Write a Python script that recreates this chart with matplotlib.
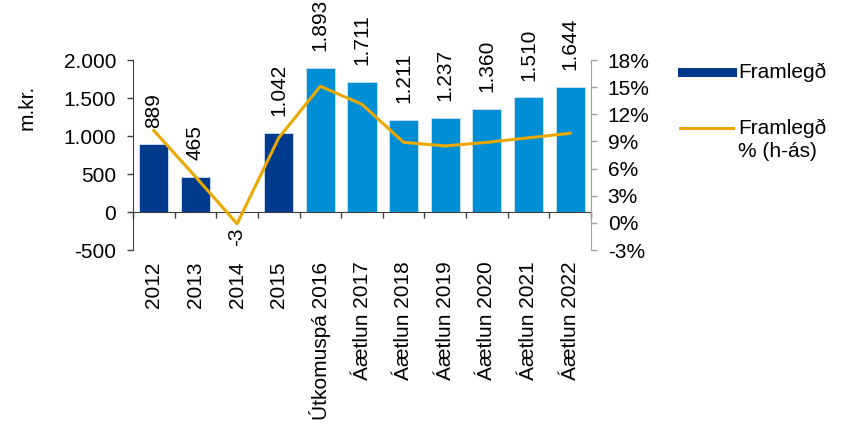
import matplotlib
matplotlib.use("Agg")
import matplotlib.pyplot as plt
from matplotlib.lines import Line2D
from matplotlib.ticker import FuncFormatter, FixedLocator
import numpy as np

plt.rcParams['font.family'] = ['Liberation Sans', 'DejaVu Sans']

categories = ["2012", "2013", "2014", "2015", "Útkomuspá 2016", "Áætlun 2017",
              "Áætlun 2018", "Áætlun 2019", "Áætlun 2020", "Áætlun 2021", "Áætlun 2022"]
framlegd = [889, 465, -3, 1042, 1893, 1711, 1211, 1237, 1360, 1510, 1644]
framlegd_pct = [10.2, 5.1, -0.1, 9.4, 15.1, 13.1, 8.9, 8.5, 8.9, 9.4, 9.9]
n_actual = 4

dark_blue = "#003A8C"
light_blue = "#008FD5"
gold = "#EAA800"
FS = 15

fig = plt.figure(figsize=(8.43, 4.24), dpi=100)
ax = fig.add_axes([133/843, 1-250/424, (591-133)/843, (250-60)/424])
x = np.arange(len(categories))
colors = [dark_blue if i < n_actual else light_blue for i in range(len(categories))]
ax.bar(x, framlegd, width=0.7, color=colors, edgecolor="#cfe3f3", linewidth=0.6, zorder=2)
ax.set_xlim(-0.5, len(categories) - 0.5)
ax.set_ylim(-500, 2000)
ax.set_yticks(np.arange(-500, 2001, 500))
ax.yaxis.set_major_formatter(FuncFormatter(lambda v, p: f"{int(v):,}".replace(",", ".")))
ax.tick_params(axis='y', direction='out', length=4, width=1, color="#404040", labelsize=FS, pad=8)

for s in ['top', 'right']:
    ax.spines[s].set_visible(False)
ax.spines['left'].set_color("#404040")
ax.spines['bottom'].set_position(('data', 0))
ax.spines['bottom'].set_color("#404040")
ax.xaxis.set_major_locator(FixedLocator(np.arange(-0.5, len(categories), 1.0)))
ax.set_xticklabels([])
ax.tick_params(axis='x', direction='out', length=4, width=1, color="#404040")

# category labels below axes
for xi, lab in zip(x, categories):
    ax.text(xi, -0.06, lab, transform=ax.get_xaxis_transform(), rotation=90,
            ha='center', va='top', fontsize=FS)

# value labels
for xi, v in zip(x, framlegd):
    txt = f"{v:,}".replace(",", ".")
    if v >= 0:
        ax.annotate(txt, (xi, v), xytext=(0, 12), textcoords='offset points',
                    rotation=90, ha='center', va='bottom', fontsize=FS, annotation_clip=False)
    else:
        ax.annotate(txt, (xi, 0), xytext=(0, -11), textcoords='offset points',
                    rotation=90, ha='center', va='top', fontsize=FS, annotation_clip=False)

ax2 = ax.twinx()
ax2.set_position(ax.get_position())
ax2.plot(x, framlegd_pct, color=gold, linewidth=2.2, zorder=3)
ax2.set_ylim(-3, 18)
ax2.set_yticks(np.arange(-3, 19, 3))
ax2.yaxis.set_major_formatter(FuncFormatter(lambda v, p: f"{int(round(v))}%"))
ax2.tick_params(axis='y', direction='out', length=4, width=1, color="#A0A0A0", labelsize=FS, pad=8)
for s in ['top', 'left', 'bottom']:
    ax2.spines[s].set_visible(False)
ax2.spines['right'].set_color("#A0A0A0")

fig.text(27/843, 1-107/424, "m.kr.", rotation=90, ha='center', va='center', fontsize=FS)

# legend
fig.add_artist(Line2D([682/843, 732/843], [1-72/424, 1-72/424], color=dark_blue, linewidth=6.5,
                      transform=fig.transFigure))
fig.text(738/843, 1-72/424, "Framlegð", ha='left', va='center', fontsize=FS)
fig.add_artist(Line2D([680/843, 733/843], [1-128/424, 1-128/424], color=gold, linewidth=2.2,
                      transform=fig.transFigure))
fig.text(738/843, 1-128/424, "Framlegð", ha='left', va='center', fontsize=FS)
fig.text(738/843, 1-152/424, "% (h-ás)", ha='left', va='center', fontsize=FS)

fig.savefig("out.png", dpi=100)
